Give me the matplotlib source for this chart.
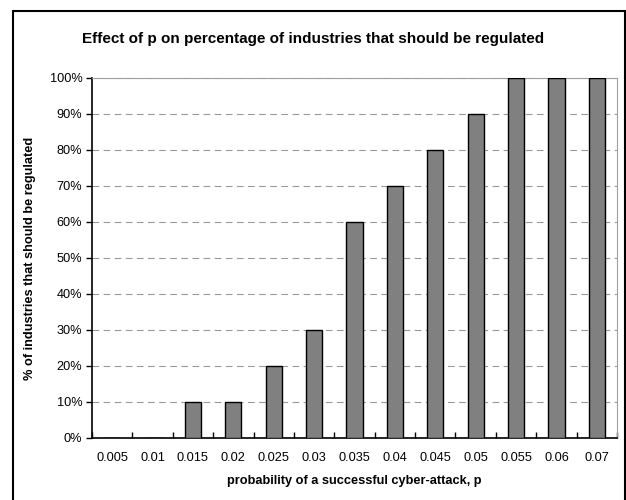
import matplotlib.pyplot as plt
import numpy as np
from matplotlib.patches import Rectangle
from matplotlib.ticker import PercentFormatter, FixedLocator

plt.rcParams['font.family'] = ['Liberation Sans', 'DejaVu Sans']

# probability of a successful cyber-attack and share of industries to regulate
p_labels = ['0.005', '0.01', '0.015', '0.02', '0.025', '0.03', '0.035',
            '0.04', '0.045', '0.05', '0.055', '0.06', '0.07']
pct_regulated = [0, 0, 10, 10, 20, 30, 60, 70, 80, 90, 100, 100, 100]

fig = plt.figure(figsize=(6.26, 5.0), dpi=100)
ax = fig.add_axes([92 / 626, 1 - 438 / 500, (617 - 92) / 626, (438 - 78) / 500])

x = np.arange(len(p_labels))
ax.bar(x, pct_regulated, width=0.4, color='#808080', edgecolor='black', linewidth=1.0, zorder=3)

ax.set_xlim(-0.5, len(p_labels) - 0.5)
ax.set_ylim(0, 100)
ax.set_yticks(np.arange(0, 101, 10))
ax.yaxis.set_major_formatter(PercentFormatter(decimals=0))
ax.set_xticks(x)
ax.set_xticklabels(p_labels)
ax.xaxis.set_minor_locator(FixedLocator(np.arange(-0.5, len(p_labels), 1)))
ax.tick_params(axis='x', which='major', length=0, pad=10, labelsize=9.2)
ax.tick_params(axis='x', which='minor', direction='in', length=4, width=1)
ax.tick_params(axis='y', direction='out', length=4, width=1, labelsize=9.2, pad=3)

ax.grid(axis='y', color='#999999', linestyle=(0, (6, 4)), linewidth=0.8, zorder=0)

for side in ['top', 'right']:
    ax.spines[side].set_color('#a0a0a0')
for side in ['left', 'bottom']:
    ax.spines[side].set_color('black')
    ax.spines[side].set_linewidth(1.2)

ax.set_xlabel('probability of a successful cyber-attack, p', fontsize=9.2, fontweight='bold', labelpad=8)
ax.set_ylabel('% of industries that should be regulated', fontsize=9.2, fontweight='bold', labelpad=10)
fig.text(0.5, 1 - 39 / 500, 'Effect of p on percentage of industries that should be regulated',
         ha='center', va='center', fontsize=11, fontweight='bold')

# outer chart border
fig.patches.append(Rectangle((13 / 626, -0.01), (625 - 13) / 626, 1 - 11 / 500 + 0.01,
                             transform=fig.transFigure, fill=False,
                             edgecolor='black', linewidth=1.5))

fig.savefig('out.png', dpi=100)
